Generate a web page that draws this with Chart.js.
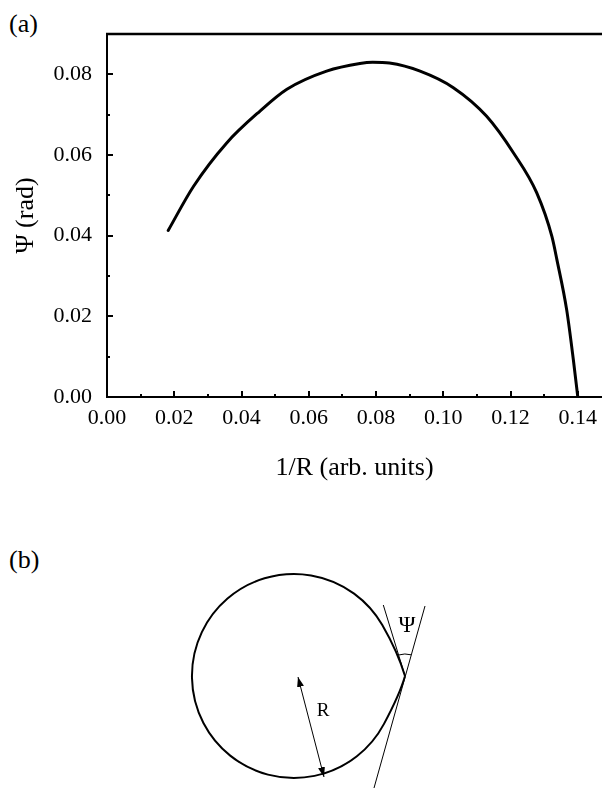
<!DOCTYPE html>
<html>
<head>
<meta charset="utf-8">
<script src="https://cdn.jsdelivr.net/npm/chart.js@4.4.1/dist/chart.umd.min.js"></script>
<style>
  html, body { margin: 0; padding: 0; background: #fff; }
  body { width: 602px; height: 789px; position: relative; overflow: hidden; font-family: "Liberation Serif", serif; }
  #chartBox { position: absolute; left: 0; top: 0; width: 602px; height: 484px; }
  .panel { position: absolute; font-size: 26px; line-height: 30px; color: #000; }
  #sketch { position: absolute; left: 0; top: 0; }
</style>
</head>
<body>
<div class="panel" style="left:9px; top:9px;">(a)</div>
<div id="chartBox"><canvas id="psiChart"></canvas></div>
<div class="panel" style="left:9px; top:545px;">(b)</div>

<svg id="sketch" width="602" height="789">
  <defs>
    <marker id="head" viewBox="0 0 10 7" refX="10" refY="3.5" markerUnits="userSpaceOnUse"
            markerWidth="10" markerHeight="7" orient="auto-start-reverse">
      <path d="M0,0 L10,3.5 L0,7 z" fill="#000"/>
    </marker>
  </defs>
  <!-- drop outline with the cusp on the right -->
  <path d="M405,676 C400.4,660.7 390.3,638.9 382.3,625 A102,102 0 1 0 384,723.9 C391.5,709.8 400.7,691.4 405,676"
        fill="none" stroke="#000" stroke-width="2"/>
  <!-- tangent lines -->
  <line x1="383.3" y1="605" x2="405" y2="676" stroke="#000" stroke-width="1"/>
  <line x1="425" y1="606" x2="374" y2="788" stroke="#000" stroke-width="1"/>
  <path d="M398.6,655 A22,22 0 0 1 411.1,654.8" fill="none" stroke="#000" stroke-width="1"/>
  <text x="407" y="632" font-family="Liberation Serif" font-size="23" text-anchor="middle">Ψ</text>
  <!-- radius -->
  <line x1="298" y1="677" x2="324" y2="777" stroke="#000" stroke-width="1"
        marker-start="url(#head)" marker-end="url(#head)"/>
  <text x="323" y="716" font-family="Liberation Serif" font-size="19" text-anchor="middle">R</text>
</svg>

<script>
// 1/R values and measured angle
const invR = [0.0182, 0.0257, 0.0356, 0.0455, 0.0535, 0.0653, 0.0752, 0.0790, 0.0840,
              0.0931, 0.1030, 0.1129, 0.1209, 0.1278, 0.1323, 0.1338, 0.1367, 0.1387, 0.1400];
const psi = [0.0413, 0.0522, 0.0630, 0.0709, 0.0763, 0.0808, 0.0827, 0.0830, 0.0828,
             0.0808, 0.0767, 0.0696, 0.0605, 0.0506, 0.0398, 0.0340, 0.0216, 0.0091, 0.0];

const xTickValues = [0, 0.02, 0.04, 0.06, 0.08, 0.10, 0.12, 0.14];
const xMinorValues = [0.01, 0.03, 0.05, 0.07, 0.09, 0.11, 0.13];
const yTickValues = [0, 0.02, 0.04, 0.06, 0.08];
const yMinorValues = [0.01, 0.03, 0.05, 0.07];

const serif = "'Liberation Serif', 'Times New Roman', serif";

// inward tick marks + top frame line
const frameTicks = {
    id: 'frameTicks',
    afterDraw(chart) {
        const { ctx, chartArea: a, scales: { x, y } } = chart;
        ctx.save();
        ctx.strokeStyle = '#000';
        ctx.lineWidth = 2.5;
        ctx.beginPath();
        ctx.moveTo(a.left - 1, a.top);
        ctx.lineTo(a.right, a.top);
        ctx.stroke();

        ctx.lineWidth = 2;
        const tickX = (vals, len) => vals.forEach(v => {
            const px = Math.round(x.getPixelForValue(v));
            ctx.beginPath();
            ctx.moveTo(px, a.bottom);
            ctx.lineTo(px, a.bottom - len);
            ctx.stroke();
        });
        const tickY = (vals, len) => vals.forEach(v => {
            const py = Math.round(y.getPixelForValue(v));
            ctx.beginPath();
            ctx.moveTo(a.left, py);
            ctx.lineTo(a.left + len, py);
            ctx.stroke();
        });
        tickX(xTickValues.slice(1), 6);
        tickX(xMinorValues, 3);
        tickY(yTickValues.slice(1), 6);
        tickY(yMinorValues, 3);
        ctx.restore();
    }
};

const ctx = document.getElementById('psiChart').getContext('2d');

new Chart(ctx, {
    type: 'scatter',
    data: {
        datasets: [{
            data: invR.map((v, i) => ({ x: v, y: psi[i] })),
            showLine: true,
            borderColor: '#000',
            borderWidth: 3,
            pointRadius: 0,
            cubicInterpolationMode: 'monotone',
            borderCapStyle: 'round'
        }]
    },
    options: {
        responsive: true,
        maintainAspectRatio: false,
        animation: false,
        layout: { padding: { top: 34, left: 0, right: 0, bottom: 0 } },
        scales: {
            x: {
                type: 'linear',
                min: 0,
                max: 0.1472,
                grid: { display: false },
                border: { display: true, color: '#000', width: 2 },
                afterBuildTicks: s => { s.ticks = xTickValues.map(v => ({ value: v })); },
                afterFit: s => { s.height = 87; },
                ticks: {
                    color: '#000',
                    padding: 0,
                    maxRotation: 0,
                    autoSkip: false,
                    font: { family: serif, size: 22 },
                    callback: v => v.toFixed(2)
                },
                title: {
                    display: true,
                    text: '1/R (arb. units)',
                    color: '#000',
                    padding: { top: 0, bottom: 0 },
                    font: { family: serif, size: 26 }
                }
            },
            y: {
                type: 'linear',
                min: 0,
                max: 0.09,
                grid: { display: false },
                border: { display: true, color: '#000', width: 2 },
                afterBuildTicks: s => { s.ticks = yTickValues.map(v => ({ value: v })); },
                afterFit: s => { s.width = 107; },
                ticks: {
                    color: '#000',
                    padding: 7,
                    autoSkip: false,
                    font: { family: serif, size: 22 },
                    callback: v => v.toFixed(2)
                },
                title: {
                    display: true,
                    text: 'Ψ (rad)',
                    color: '#000',
                    padding: { top: 11, bottom: 0 },
                    font: { family: serif, size: 26 }
                }
            }
        },
        plugins: {
            legend: { display: false },
            tooltip: { enabled: false }
        }
    },
    plugins: [frameTicks]
});
</script>
</body>
</html>
